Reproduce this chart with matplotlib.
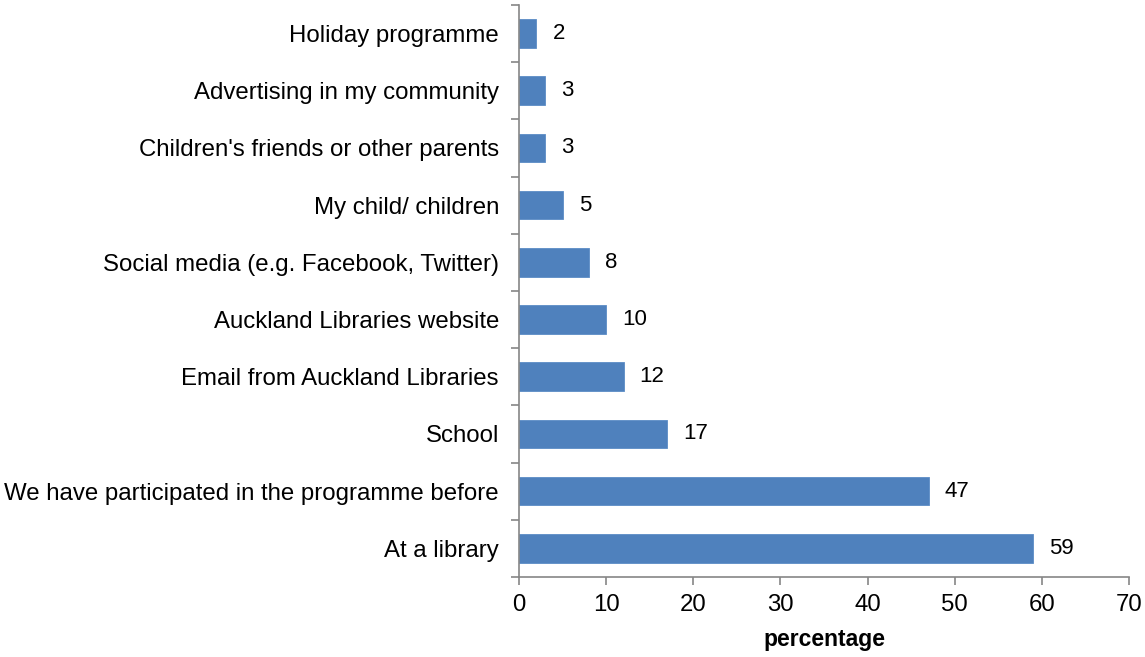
import numpy as np
import matplotlib.pyplot as plt
from matplotlib.ticker import FixedLocator

plt.rcParams['font.family'] = ['Liberation Sans', 'DejaVu Sans']

# how people heard about the programme, bottom to top
sources = ['At a library',
           'We have participated in the programme before',
           'School',
           'Email from Auckland Libraries',
           'Auckland Libraries website',
           'Social media (e.g. Facebook, Twitter)',
           'My child/ children',
           "Children's friends or other parents",
           'Advertising in my community',
           'Holiday programme']
pct = [59, 47, 17, 12, 10, 8, 5, 3, 3, 2]

fig = plt.figure(figsize=(11.45, 6.57), dpi=100)
ax = fig.add_axes([0.4533, 0.1218, 0.5327, 0.8706])

y = np.arange(len(sources))
ax.barh(y, pct, height=0.5, color='#4f81bd', edgecolor='#5b8cc6', linewidth=0.6)

for yi, v in zip(y, pct):
    ax.annotate(str(v), (v, yi), xytext=(11.5, 0), textcoords='offset points',
                ha='left', va='center', fontsize=16, color='black')

ax.set_xlim(0, 70)
ax.set_ylim(-0.5, len(sources) - 0.5)
ax.set_xticks(range(0, 71, 10))
ax.set_yticks(y)
ax.set_yticklabels(sources)
ax.yaxis.set_minor_locator(FixedLocator(np.arange(-0.5, len(sources), 1)))
ax.tick_params(axis='y', which='major', length=0, pad=14.5, labelsize=17.3)
ax.tick_params(axis='y', which='minor', length=6, width=1.2, color='#868686', direction='out')
ax.tick_params(axis='x', length=6, width=1.2, color='#868686', labelsize=17.3, pad=6)

for s in ['top', 'right']:
    ax.spines[s].set_visible(False)
for s in ['left', 'bottom']:
    ax.spines[s].set_color('#868686')
    ax.spines[s].set_linewidth(1.2)

ax.set_xlabel('percentage', fontsize=16.5, fontweight='bold', labelpad=9)

fig.savefig('out.png', dpi=100)
